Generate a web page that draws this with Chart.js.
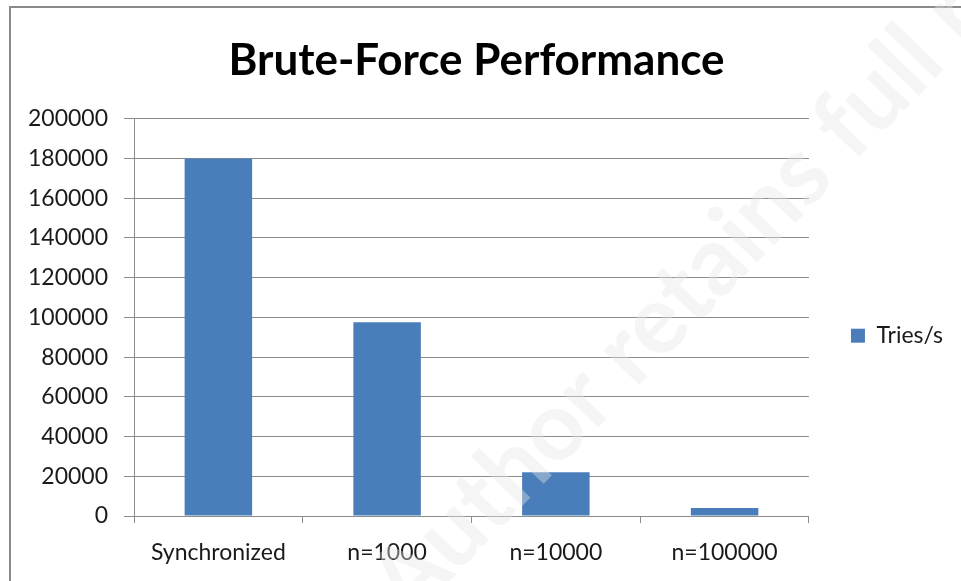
<!DOCTYPE html>
<html>
<head>
<meta charset="utf-8">
<script src="https://cdn.jsdelivr.net/npm/chart.js@4/dist/chart.umd.min.js"></script>
<style>
  html, body { margin: 0; padding: 0; background: #fff; }
  #wrap { width: 961px; height: 581px; }
</style>
</head>
<body>
<div id="wrap"><canvas id="barChart" width="961" height="581"></canvas></div>
<script>
// Datos del grafico
const categorias = ['Synchronized', 'n=1000', 'n=10000', 'n=100000'];
const intentos = [180000, 97500, 22000, 4000];
const serie = 'Tries/s';
const titulo = 'Brute-Force Performance';
const marcaAgua = 'Author retains full rights';

const azul = '#4A7EBB';
const gris = '#8c8c8c';
const fuente = 'Lato, "Open Sans", sans-serif';

// Marco gris y marca de agua
const marco = {
    id: 'marco',
    beforeDraw(chart) {
        const ctx = chart.ctx;
        ctx.save();
        ctx.strokeStyle = '#8a8a8a';
        ctx.lineWidth = 2;
        ctx.strokeRect(10, 7, 980, 600);
        ctx.restore();
    },
    afterDraw(chart) {
        const ctx = chart.ctx;
        ctx.save();
        ctx.translate(410, 622);
        ctx.rotate(-46 * Math.PI / 180);
        ctx.font = 'bold 96px ' + fuente;
        ctx.fillStyle = 'rgba(230,230,230,0.4)';
        ctx.textBaseline = 'alphabetic';
        ctx.fillText(marcaAgua, 0, 0);
        ctx.restore();
    }
};

const ctxBar = document.getElementById('barChart').getContext('2d');
new Chart(ctxBar, {
    type: 'bar',
    data: {
        labels: categorias,
        datasets: [{
            label: serie,
            data: intentos,
            backgroundColor: azul,
            borderWidth: 0,
            categoryPercentage: 1,
            barPercentage: 0.4
        }]
    },
    options: {
        responsive: false,
        animation: false,
        layout: { padding: { left: 0, top: 10, right: 8, bottom: 0 } },
        plugins: {
            title: {
                display: true,
                text: titulo,
                color: '#000',
                font: { family: fuente, size: 44, weight: 'bold' },
                padding: { top: 24, bottom: 32 }
            },
            legend: {
                position: 'right',
                title: {
                    display: true,
                    text: '',
                    font: { size: 12 },
                    padding: { top: 66, bottom: 0 }
                },
                labels: {
                    boxWidth: 14,
                    boxHeight: 14,
                    color: '#1a1a1a',
                    font: { family: fuente, size: 23 },
                    padding: 42
                }
            },
            tooltip: { enabled: false }
        },
        scales: {
            x: {
                afterFit: (scale) => { scale.height = 65; },
                grid: {
                    drawOnChartArea: false,
                    drawTicks: true,
                    tickLength: 7,
                    color: gris,
                    offset: true
                },
                border: { color: gris, width: 1 },
                ticks: {
                    color: '#1a1a1a',
                    font: { family: fuente, size: 23 },
                    padding: 16,
                    maxRotation: 0
                }
            },
            y: {
                min: 0,
                max: 200000,
                afterFit: (scale) => { scale.width = 134; },
                grid: {
                    color: gris,
                    tickLength: 10
                },
                border: { color: gris, width: 1 },
                ticks: {
                    stepSize: 20000,
                    callback: (v) => String(v),
                    color: '#1a1a1a',
                    font: { family: fuente, size: 23 },
                    padding: 16
                }
            }
        }
    },
    plugins: [marco]
});
</script>
</body>
</html>
